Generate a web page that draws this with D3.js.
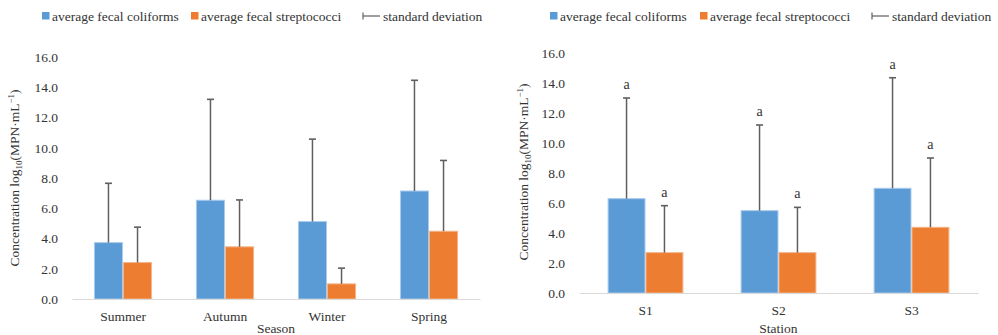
<!DOCTYPE html>
<html>
<head>
<meta charset="utf-8">
<script src="https://cdn.jsdelivr.net/npm/d3@7"></script>
<style>
  body { margin: 0; background: #fff; }
  text { font-family: "Liberation Serif", "Times New Roman", serif; fill: #333; }
</style>
</head>
<body>
<div id="container"></div>
<script>
/* DATA */
const seriesNames = ["average fecal coliforms", "average fecal streptococci"];
const sdName = "standard deviation";
const yTicks = [0, 2, 4, 6, 8, 10, 12, 14, 16];

// left panel - by season
const seasons = ["Summer", "Autumn", "Winter", "Spring"];
const seasonColiforms = [3.73, 6.53, 5.12, 7.14];
const seasonColiformsSD = [3.92, 6.67, 5.45, 7.32];
const seasonStrep = [2.41, 3.45, 1.0, 4.48];
const seasonStrepSD = [2.34, 3.10, 1.04, 4.68];

// right panel - by station
const stations = ["S1", "S2", "S3"];
const stationColiforms = [6.29, 5.49, 6.98];
const stationColiformsSD = [6.71, 5.71, 7.37];
const stationStrep = [2.69, 2.69, 4.38];
const stationStrepSD = [3.13, 3.02, 4.62];
const stationLetters = ["a", "a", "a"];

/* CONSTANTS */
const width = 998;
const height = 335;
const colors = ["#5B9BD5", "#ED7D31"];
const edges = ["#a9cbee", "#f5b48a"];
const errColor = "#5f5f5f";
const font = "'Liberation Serif', 'Times New Roman', serif";

const svg = d3.select("#container")
  .append("svg")
  .attr("width", width)
  .attr("height", height);

function drawPanel(opt) {
  const g = svg.append("g");

  const yScale = d3.scaleLinear()
    .domain([0, 16])
    .range([opt.y0, opt.y1]);

  const gap = 0.43;
  const xScale = d3.scaleBand()
    .domain(opt.cats)
    .range([opt.x0, opt.x1])
    .paddingInner(gap)
    .paddingOuter(gap / 2);

  const xSub = d3.scaleBand()
    .domain([0, 1])
    .range([0, xScale.bandwidth()]);

  // table built from the arrays
  const rows = [];
  opt.cats.forEach((c, i) => {
    rows.push({ cat: c, s: 0, v: opt.means[0][i], sd: opt.sds[0][i], lab: opt.letters ? opt.letters[i] : null });
    rows.push({ cat: c, s: 1, v: opt.means[1][i], sd: opt.sds[1][i], lab: opt.letters ? opt.letters[i] : null });
  });

  // y-axis tick labels
  g.append("g")
    .attr("transform", `translate(${opt.x0},0)`)
    .attr("font-family", font)
    .call(d3.axisLeft(yScale).tickValues(yTicks).tickFormat(d3.format(".1f")).tickSize(0).tickPadding(14))
    .call(a => a.select(".domain").remove())
    .call(a => a.selectAll("text").style("font-size", "13.5px").attr("fill", "#333"));

  // bars
  g.selectAll("rect.bar")
    .data(rows)
    .join("rect")
    .attr("class", "bar")
    .attr("x", d => xScale(d.cat) + xSub(d.s) + 0.5)
    .attr("width", xSub.bandwidth() - 1)
    .attr("y", d => yScale(d.v))
    .attr("height", d => yScale(0) - yScale(d.v))
    .attr("fill", d => colors[d.s])
    .attr("stroke", d => edges[d.s])
    .attr("stroke-width", 1);

  // error bars (upper only)
  const cx = d => xScale(d.cat) + xSub(d.s) + xSub.bandwidth() / 2;
  g.selectAll("line.err")
    .data(rows)
    .join("line")
    .attr("class", "err")
    .attr("x1", cx).attr("x2", cx)
    .attr("y1", d => yScale(d.v))
    .attr("y2", d => yScale(d.v + d.sd))
    .attr("stroke", errColor)
    .attr("stroke-width", 1.5);
  g.selectAll("line.cap")
    .data(rows)
    .join("line")
    .attr("class", "cap")
    .attr("x1", d => cx(d) - 3.5).attr("x2", d => cx(d) + 3.5)
    .attr("y1", d => yScale(d.v + d.sd))
    .attr("y2", d => yScale(d.v + d.sd))
    .attr("stroke", errColor)
    .attr("stroke-width", 1.6);

  // significance letters
  if (opt.letters) {
    g.selectAll("text.sig")
      .data(rows)
      .join("text")
      .attr("class", "sig")
      .attr("x", cx)
      .attr("y", d => yScale(d.v + d.sd) - 9)
      .attr("text-anchor", "middle")
      .style("font-size", "14px")
      .text(d => d.lab);
  }

  // x-axis
  g.append("g")
    .attr("transform", `translate(0,${opt.y0})`)
    .attr("font-family", font)
    .call(d3.axisBottom(xScale).tickSize(0).tickPadding(12))
    .call(a => a.select(".domain").attr("stroke", "#d9d9d9").attr("stroke-width", 1.2))
    .call(a => a.selectAll("text").style("font-size", "13.5px").attr("fill", "#333"));

  // axis titles
  g.append("text")
    .attr("x", (opt.x0 + opt.x1) / 2)
    .attr("y", opt.xTitleY)
    .attr("text-anchor", "middle")
    .style("font-size", "13.5px")
    .text(opt.xTitle);

  const yt = g.append("text")
    .attr("transform", `translate(${opt.yTitleX},${opt.yTitleY}) rotate(-90)`)
    .attr("text-anchor", "middle")
    .style("font-size", "13.5px");
  yt.append("tspan").text(opt.yTitlePre + "log");
  yt.append("tspan").attr("dy", 3).style("font-size", "9px").text("10");
  yt.append("tspan").attr("dy", -3).text("(MPN·mL");
  yt.append("tspan").attr("dy", -5).style("font-size", "9px").text("−1");
  yt.append("tspan").attr("dy", 5).text(")");

  // legend
  const lg = g.append("g").attr("transform", `translate(${opt.legX},16)`);
  seriesNames.forEach((name, i) => {
    const ox = i * opt.legStep;
    lg.append("rect")
      .attr("x", ox).attr("y", -4)
      .attr("width", 7.5).attr("height", 7.5)
      .attr("fill", colors[i]);
    lg.append("text")
      .attr("x", ox + 10).attr("y", 4.5)
      .style("font-size", "13.5px")
      .text(name);
  });
  const sx = opt.legSdX;
  lg.append("line").attr("x1", sx).attr("x2", sx + 17).attr("y1", 0).attr("y2", 0)
    .attr("stroke", errColor).attr("stroke-width", 1.2);
  lg.append("line").attr("x1", sx).attr("x2", sx).attr("y1", -3.5).attr("y2", 3.5)
    .attr("stroke", errColor).attr("stroke-width", 1.2);
  lg.append("text")
    .attr("x", sx + 20).attr("y", 4.5)
    .style("font-size", "13.5px")
    .text(sdName);
}

drawPanel({
  cats: seasons,
  means: [seasonColiforms, seasonStrep],
  sds: [seasonColiformsSD, seasonStrepSD],
  x0: 72, x1: 480, y0: 299, y1: 57,
  xTitle: "Season", xTitleY: 333,
  yTitlePre: "Concentration ", yTitleX: 19, yTitleY: 178,
  legX: 42, legStep: 149, legSdX: 321
});

drawPanel({
  cats: stations,
  means: [stationColiforms, stationStrep],
  sds: [stationColiformsSD, stationStrepSD],
  letters: stationLetters,
  x0: 579, x1: 978, y0: 293, y1: 53,
  xTitle: "Station", xTitleY: 333,
  yTitlePre: "Concentration  ", yTitleX: 528, yTitleY: 172,
  legX: 550, legStep: 150, legSdX: 322
});
</script>
</body>
</html>
